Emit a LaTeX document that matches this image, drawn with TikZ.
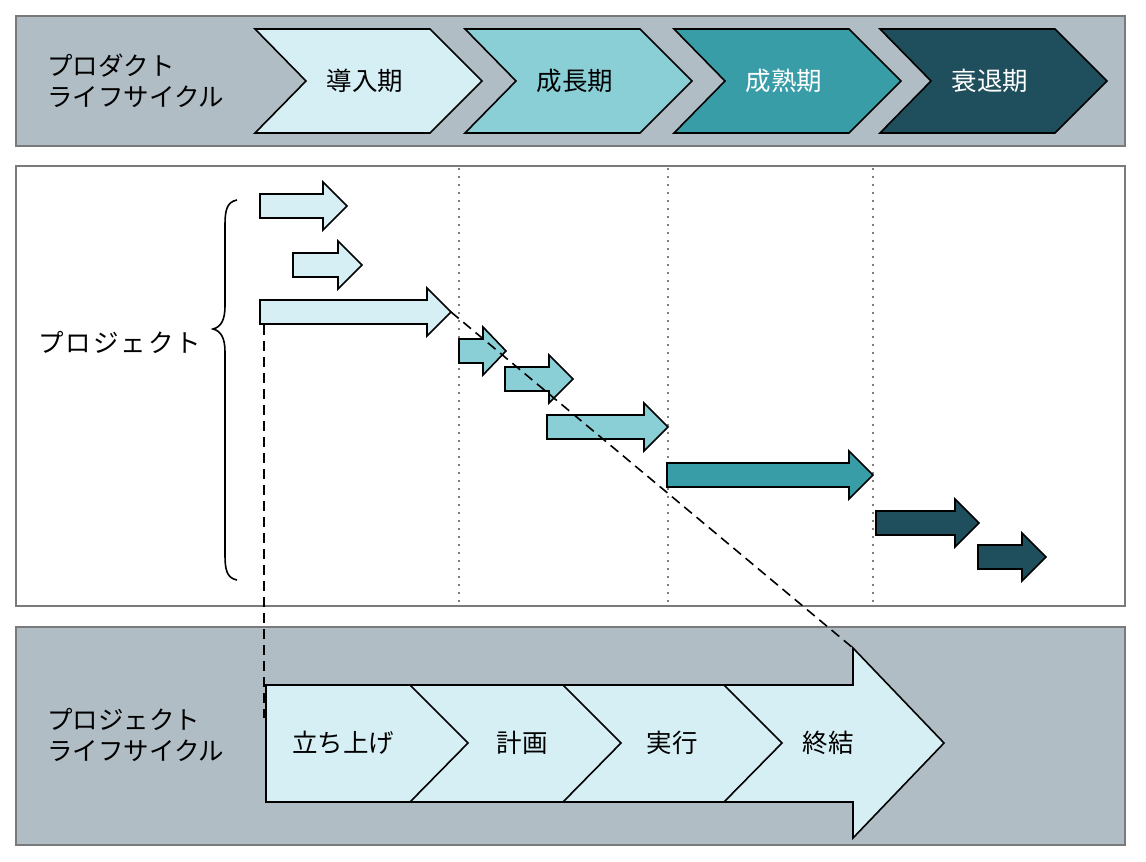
\documentclass[tikz,border=0pt]{standalone}
\usepackage{fontspec}
\setmainfont{Noto Sans CJK JP}
\definecolor{panelgray}{HTML}{B0BDC4}
\definecolor{panelborder}{HTML}{7A7A7A}
\definecolor{phaseA}{HTML}{D6EFF4}
\definecolor{phaseB}{HTML}{8ACED6}
\definecolor{phaseC}{HTML}{399DA8}
\definecolor{phaseD}{HTML}{1F4F5C}
\newcommand\blockarr[5]{%
  \filldraw[arrowbox,fill=#5] (#1,#4-12) -- (#2,#4-12) -- (#2,#4-24) -- (#3,#4) -- (#2,#4+24) -- (#2,#4+12) -- (#1,#4+12) -- cycle;}
\newcommand\chevtop[2]{%
  \filldraw[arrowbox,fill=#2] (#1,29) -- (#1+175,29) -- (#1+227,81) -- (#1+175,133) -- (#1,133) -- (#1+51,81) -- cycle;}
\begin{document}
\begin{tikzpicture}[x=1pt,y=-1pt,
  panel/.style={draw=panelborder,line width=1.8pt},
  arrowbox/.style={draw=black,line width=1.6pt,line join=miter},
  lbl/.style={font=\fontsize{25.5}{31}\selectfont,inner sep=0pt},
  gridline/.style={draw=gray,line width=1.8pt,dash pattern=on 1.8pt off 6.2pt},
  guide/.style={draw=black,line width=1.6pt,dash pattern=on 10pt off 6pt}]
\useasboundingbox (0,0) rectangle (1146,862);
% panels
\filldraw[panel,fill=panelgray] (16,16) rectangle (1125,146);
\filldraw[panel,fill=white] (16,166) rectangle (1125,606);
\filldraw[panel,fill=panelgray] (16,627) rectangle (1125,845);
% top chevrons
\chevtop{255}{phaseA}
\chevtop{465}{phaseB}
\chevtop{674}{phaseC}
\chevtop{880}{phaseD}
\node[lbl,anchor=west,align=left] (plc) at (47,81) {プロダクト\\ライフサイクル};
\node[lbl] (p1) at (365,81) {導入期};
\node[lbl] (p2) at (575,81) {成長期};
\node[lbl,text=white] (p3) at (784,81) {成熟期};
\node[lbl,text=white] (p4) at (990,81) {衰退期};
% grid
\draw[gridline] (459,168) -- (459,604);
\draw[gridline] (668,168) -- (668,604);
\draw[gridline] (873,168) -- (873,604);
% brace and label
\draw[line width=1.6pt] (237,200) .. controls (226,202) and (225,212) .. (225,226) -- (225,306) .. controls (225,320) and (221,327) .. (213,329) .. controls (221,331) and (225,338) .. (225,352) -- (225,554) .. controls (225,568) and (226,578) .. (237,580);
\node[lbl,anchor=west] (proj) at (38,342) {\addfontfeatures{LetterSpace=8}プロジェクト};
% project arrows
\blockarr{260}{323}{347}{206}{phaseA}
\blockarr{293}{338}{362}{265}{phaseA}
\blockarr{260}{427}{451}{312}{phaseA}
\blockarr{459}{483}{506}{351}{phaseB}
\blockarr{505}{549}{573}{379}{phaseB}
\blockarr{547}{644}{668}{427}{phaseB}
\blockarr{667}{849}{873}{475}{phaseC}
\blockarr{876}{955}{979}{523}{phaseD}
\blockarr{978}{1022}{1046}{557}{phaseD}
% bottom big arrow
\filldraw[arrowbox,fill=phaseA] (266,685) -- (853,685) -- (853,648) -- (944,743) -- (853,838) -- (853,802) -- (266,802) -- cycle;
\draw[arrowbox] (410,685) -- (468,743) -- (410,802);
\draw[arrowbox] (563,685) -- (621,743) -- (563,802);
\draw[arrowbox] (724,685) -- (782,743) -- (724,802);
\node[lbl,anchor=west,align=left] (pjlc) at (47,735) {プロジェクト\\ライフサイクル};
\node[lbl] (s1) at (343,743) {立ち上げ};
\node[lbl] (s2) at (522,743) {計画};
\node[lbl] (s3) at (672,743) {実行};
\node[lbl] (s4) at (828,743) {終結};
% guides
\coordinate (a3base) at (264,325);
\coordinate (vend) at (264,718);
\coordinate (a3tip) at (451,312);
\coordinate (headtop) at (853,648);
\draw[guide] (a3base) -- (vend);
\draw[guide] (a3tip) -- (headtop);
\end{tikzpicture}
\end{document}
